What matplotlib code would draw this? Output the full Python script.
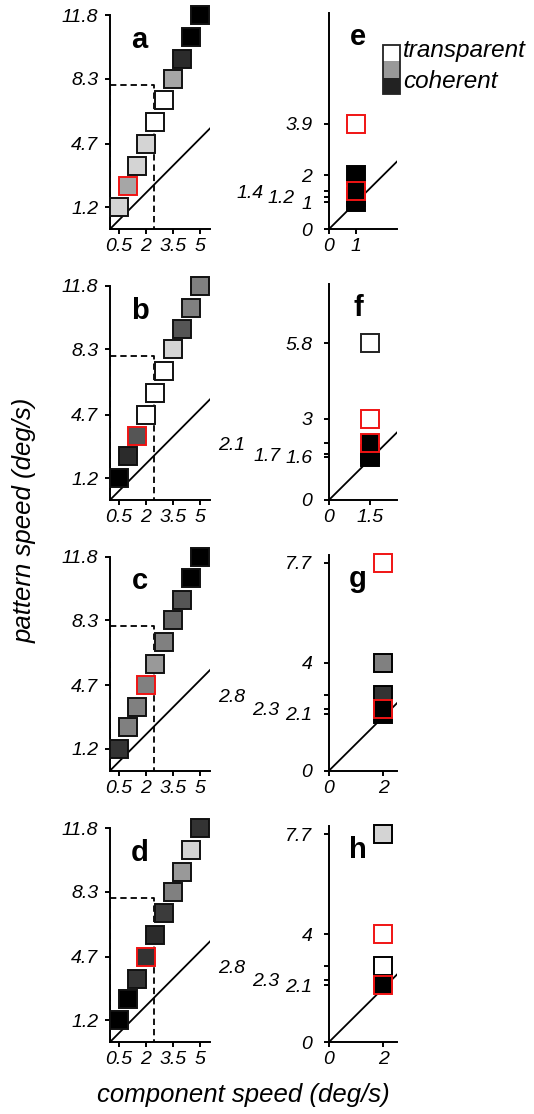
import matplotlib
matplotlib.use("Agg")
import matplotlib.pyplot as plt
from matplotlib.patches import Rectangle
from matplotlib.transforms import blended_transform_factory

plt.rcParams['font.family'] = ['Liberation Sans', 'DejaVu Sans']

RED = '#f01414'

# left column: pattern speed against component speed
component = [0.5, 1.0, 1.5, 2.0, 2.5, 3.0, 3.5, 4.0, 4.5, 5.0]
pattern = [1.2, 2.4, 3.5, 4.7, 5.9, 7.1, 8.3, 9.4, 10.6, 11.8]
left_xticks = [0.5, 2, 3.5, 5]
left_xlabels = ['0.5', '2', '3.5', '5']
left_yticks = [1.2, 4.7, 8.3, 11.8]
left_ylabels = ['1.2', '4.7', '8.3', '11.8']
thresh_comp = 2.45
thresh_pat = 7.95

# grey of each square (white = transparent, black = coherent)
fill_a = ['#d4d4d4', '#a6a6a6', '#d4d4d4', '#d4d4d4', '#ffffff',
          '#ffffff', '#a6a6a6', '#2b2b2b', '#000000', '#000000']
fill_b = ['#000000', '#2b2b2b', '#555555', '#ffffff', '#ffffff',
          '#ffffff', '#d4d4d4', '#555555', '#808080', '#808080']
fill_c = ['#333333', '#808080', '#808080', '#808080', '#999999',
          '#808080', '#666666', '#555555', '#000000', '#000000']
fill_d = ['#000000', '#000000', '#333333', '#333333', '#2b2b2b',
          '#3b3b3b', '#808080', '#999999', '#d4d4d4', '#333333']
# index of the red-outlined square
red_a, red_b, red_c, red_d = 1, 2, 3, 3

# right column: one component speed, several pattern speeds
comp_e = 1.0
pat_e = [1.0, 1.2, 1.4, 2.0, 3.9]
fillr_e = ['#000000', '#000000', '#000000', '#000000', '#ffffff']
edge_e = ['k', 'k', RED, 'k', RED]
ticks_e = [0, 1, 1.2, 1.4, 2, 3.9]
tlab_e = ['0', '1', '1.2', '1.4', '2', '3.9']
xt_e = [0, 1]

comp_f = 1.5
pat_f = [1.6, 1.7, 2.1, 3.0, 5.8]
fillr_f = ['#000000', '#000000', '#000000', '#ffffff', '#ffffff']
edge_f = ['k', 'k', RED, RED, '#222222']
ticks_f = [0, 1.6, 1.7, 2.1, 3, 5.8]
tlab_f = ['0', '1.6', '1.7', '2.1', '3', '5.8']
xt_f = [0, 1.5]

comp_g = 2.0
pat_g = [2.1, 2.3, 2.8, 4.0, 7.7]
fillr_g = ['#000000', '#000000', '#333333', '#808080', '#ffffff']
edge_g = ['k', RED, 'k', 'k', RED]
ticks_g = [0, 2.1, 2.3, 2.8, 4, 7.7]
tlab_g = ['0', '2.1', '2.3', '2.8', '4', '7.7']
xt_g = [0, 2]

comp_h = 2.0
pat_h = [2.1, 2.3, 2.8, 4.0, 7.7]
fillr_h = ['#000000', '#ffffff', '#ffffff', '#ffffff', '#d4d4d4']
edge_h = [RED, 'k', 'k', RED, 'k']
ticks_h = [0, 2.1, 2.3, 2.8, 4, 7.7]
tlab_h = ['0', '2.1', '2.3', '2.8', '4', '7.7']
xt_h = [0, 2]

# horizontal offset (points) of each right-column tick label
off_e = [12, 12, 25, 47, 12, 12]
off_f = [12, 12, 35, 60, 12, 12]
off_gh = [12, 12, 36, 60, 12, 12]

TICK_FS = 14
MS = 13
MEW = 1.4

fig = plt.figure(figsize=(5.34, 11.14), dpi=100)
bottoms = [0.7944, 0.5512, 0.3082, 0.0646]


def style_axes(ax):
    for s in ['top', 'right']:
        ax.spines[s].set_visible(False)
    for s in ['left', 'bottom']:
        ax.spines[s].set_linewidth(1.4)
    ax.tick_params(direction='out', length=3.5, width=1.4, labelsize=TICK_FS)
    ax.patch.set_alpha(0)


def left_panel(bottom, fills, red_idx, letter):
    ax = fig.add_axes([0.2060, bottom, 0.1873, 0.1921])
    style_axes(ax)
    ax.set_xlim(0, 5.55)
    ax.set_ylim(0, 11.8)
    ax.plot([0, 5.55], [0, 5.55], color='k', lw=1.3, zorder=1)
    ax.plot([0, thresh_comp, thresh_comp], [thresh_pat, thresh_pat, 0],
            color='k', lw=1.3, ls=(0, (3.5, 2.2)), zorder=1)
    ax.plot([0, 0], [0, thresh_pat], color='k', lw=1.3,
            ls=(0, (3.5, 2.2)), zorder=1)
    for i, (x, y, fc) in enumerate(zip(component, pattern, fills)):
        ec = RED if i == red_idx else '#111111'
        ax.plot(x, y, 's', ms=MS, mfc=fc, mec=ec, mew=MEW,
                zorder=3, clip_on=False)
    ax.set_xticks(left_xticks)
    ax.set_xticklabels(left_xlabels, fontstyle='italic')
    ax.set_yticks(left_yticks)
    ax.set_yticklabels(left_ylabels, fontstyle='italic')
    ax.tick_params(axis='y', pad=5)
    ax.tick_params(axis='x', pad=3)
    ax.text(1.65, 10.0, letter, ha='center', va='baseline',
            fontsize=21, fontweight='bold')
    return ax


def right_panel(bottom, comp, pats, fills, edges, ticks, tlabs, offs,
                xt, letter):
    ax = fig.add_axes([0.6161, bottom, 0.1273, 0.1939])
    style_axes(ax)
    ax.set_xlim(0, 2.5)
    ax.set_ylim(0, 8)
    ax.plot([0, 2.5], [0, 2.5], color='k', lw=1.3, zorder=1)
    for y, fc, ec in zip(pats, fills, edges):
        z = 4 if ec == RED else 3
        ax.plot(comp, y, 's', ms=MS, mfc=fc, mec=ec, mew=MEW,
                zorder=z, clip_on=False)
    ax.set_xticks(xt)
    ax.set_xticklabels([f'{v:g}' for v in xt], fontstyle='italic')
    ax.tick_params(axis='x', pad=3)
    ax.set_yticks(ticks)
    ax.set_yticklabels([''] * len(ticks))
    trans = blended_transform_factory(ax.transAxes, ax.transData)
    for y, lab, off in zip(ticks, tlabs, offs):
        ax.annotate(lab, xy=(0, y), xycoords=trans, xytext=(-off, 0),
                    textcoords='offset points', ha='right',
                    va='center_baseline', fontsize=TICK_FS,
                    fontstyle='italic', annotation_clip=False)
    ax.text(1.07, 6.8, letter, ha='center', va='baseline',
            fontsize=21, fontweight='bold')
    return ax


left_panel(bottoms[0], fill_a, red_a, 'a')
left_panel(bottoms[1], fill_b, red_b, 'b')
left_panel(bottoms[2], fill_c, red_c, 'c')
left_panel(bottoms[3], fill_d, red_d, 'd')

right_panel(bottoms[0], comp_e, pat_e, fillr_e, edge_e, ticks_e, tlab_e,
            off_e, xt_e, 'e')
right_panel(bottoms[1], comp_f, pat_f, fillr_f, edge_f, ticks_f, tlab_f,
            off_f, xt_f, 'f')
right_panel(bottoms[2], comp_g, pat_g, fillr_g, edge_g, ticks_g, tlab_g,
            off_gh, xt_g, 'g')
right_panel(bottoms[3], comp_h, pat_h, fillr_h, edge_h, ticks_h, tlab_h,
            off_gh, xt_h, 'h')

# grey-scale key: white = transparent, black = coherent
W, H = 534.0, 1114.0
kx, kw = 383 / W, 17 / W
for top, bot, col in [(45, 61, '#ffffff'), (61, 78, '#999999'),
                      (78, 94, '#222222')]:
    fig.patches.append(Rectangle((kx, 1 - bot / H), kw, (bot - top) / H,
                                 transform=fig.transFigure, facecolor=col,
                                 edgecolor='none'))
fig.patches.append(Rectangle((kx, 1 - 94 / H), kw, 49 / H,
                             transform=fig.transFigure, facecolor='none',
                             edgecolor='#222222', lw=1.3))
fig.text(403 / W, 1 - 56.7 / H, 'transparent', fontsize=17.5,
         fontstyle='italic', va='baseline', ha='left')
fig.text(403 / W, 1 - 88.3 / H, 'coherent', fontsize=17.5,
         fontstyle='italic', va='baseline', ha='left')

fig.text(0.047, 0.533, 'pattern speed (deg/s)', rotation=90, fontsize=18.5,
         fontstyle='italic', ha='center', va='center')
fig.text(0.455, 0.017, 'component speed (deg/s)', fontsize=18.5,
         fontstyle='italic', ha='center', va='center')

fig.savefig('out.png', dpi=100)
